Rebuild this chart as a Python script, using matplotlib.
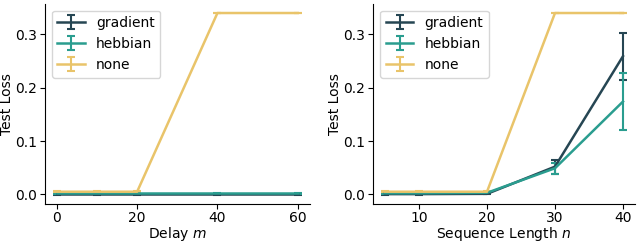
import numpy as np
import matplotlib.pyplot as plt

colors = {"gradient": "#264653", "hebbian": "#2a9d8f", "none": "#e9c46a"}

# left panel: delay m
delay = [0, 10, 20, 40, 60]
delay_loss = {
    "gradient": [0.0005, 0.0005, 0.0005, 0.0005, 0.0005],
    "hebbian": [0.002, 0.002, 0.002, 0.002, 0.002],
    "none": [0.005, 0.005, 0.005, 0.34, 0.34],
}
delay_err = {
    "gradient": [0.001, 0.001, 0.001, 0.001, 0.001],
    "hebbian": [0.001, 0.001, 0.001, 0.001, 0.001],
    "none": [0.0005, 0.0005, 0.0005, 0.0005, 0.0005],
}

# right panel: sequence length n
seq_len = [5, 10, 20, 30, 40]
seq_loss = {
    "gradient": [0.0005, 0.0005, 0.001, 0.052, 0.259],
    "hebbian": [0.002, 0.002, 0.003, 0.049, 0.174],
    "none": [0.005, 0.005, 0.005, 0.34, 0.34],
}
seq_err = {
    "gradient": [0.001, 0.001, 0.001, 0.013, 0.044],
    "hebbian": [0.001, 0.001, 0.001, 0.010, 0.054],
    "none": [0.0005, 0.0005, 0.0005, 0.0005, 0.0005],
}

plt.rcParams["font.size"] = 10
plt.rcParams["xtick.major.pad"] = 2
plt.rcParams["ytick.major.pad"] = 2
fig = plt.figure(figsize=(6.4, 2.44), dpi=100)
ax1 = fig.add_axes([0.070, 0.165, 0.414, 0.82])
ax2 = fig.add_axes([0.583, 0.165, 0.409, 0.82])

for ax, x, loss, err, xlabel in [
    (ax1, delay, delay_loss, delay_err, "Delay $m$"),
    (ax2, seq_len, seq_loss, seq_err, "Sequence Length $n$"),
]:
    for name in ["gradient", "hebbian", "none"]:
        ax.errorbar(x, loss[name], yerr=err[name], label=name, color=colors[name],
                    linewidth=1.8, capsize=3, capthick=1.5, elinewidth=1.5)
    ax.set_xlabel(xlabel, labelpad=0)
    ax.set_ylabel("Test Loss", labelpad=1)
    ax.set_yticks([0.0, 0.1, 0.2, 0.3])
    ax.spines["top"].set_visible(False)
    ax.spines["right"].set_visible(False)
    ax.legend(loc="upper left")

ax1.set_xticks([0, 20, 40, 60])
ax2.set_xticks([10, 20, 30, 40])

fig.savefig("out.png", dpi=100)
